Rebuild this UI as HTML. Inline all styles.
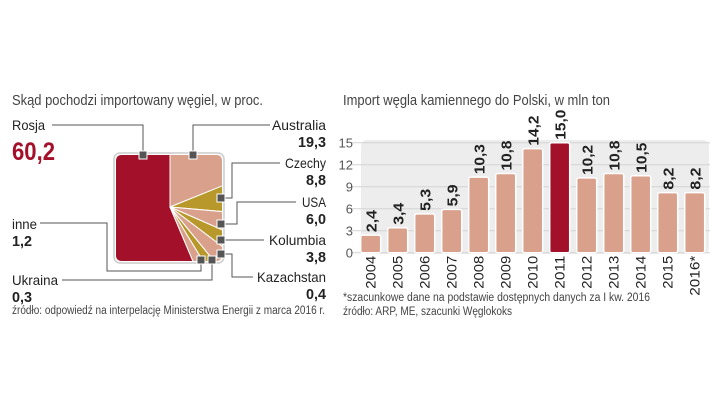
<!DOCTYPE html>
<html><head><meta charset="utf-8"><style>
body{margin:0;background:#fff;}
svg{display:block;font-family:"Liberation Sans",sans-serif;}
</style></head><body>
<svg id="c" width="720" height="405" viewBox="0 0 720 405">
<text x="12" y="105" font-size="14.5" fill="#444" textLength="251" lengthAdjust="spacingAndGlyphs">Skąd pochodzi importowany węgiel, w proc.</text>
<text x="343" y="105" font-size="14.5" fill="#444" textLength="267" lengthAdjust="spacingAndGlyphs">Import węgla kamiennego do Polski, w mln ton</text>
<g id="pie">
<defs><clipPath id="sq"><rect x="116" y="155" width="106" height="106" rx="5"/></clipPath></defs>
<rect x="114" y="153" width="110" height="110" rx="6" fill="#fff" stroke="#ccc" stroke-width="1.5"/>
<g clip-path="url(#sq)" stroke="#fff" stroke-width="1">
<polygon points="170,207 170,150 110,150 110,266 195,266" fill="#a3102a"/>
<polygon points="170,207 170,150 227,150 227,184" fill="#d9a08c"/>
<polygon points="170,207 227,184 227,212" fill="#b8982a"/>
<polygon points="170,207 227,212 227,232" fill="#d9a08c"/>
<polygon points="170,207 227,232 227,250" fill="#b8982a"/>
<polygon points="170,207 227,250 227,266 218,266" fill="#d9a08c"/>
<polygon points="170,207 218,266 206,266" fill="#b8982a"/>
<polygon points="170,207 206,266 195,266" fill="#d9a08c"/>
</g>
<g fill="none" stroke="#555" stroke-width="1">
<polyline points="52,125 143,125 143,155"/>
<polyline points="193,155 193,125 270,125"/>
<polyline points="221,198 232,198 232,163 280,163"/>
<polyline points="221,224 237,224 237,202 296,202"/>
<polyline points="221,240 264,240"/>
<polyline points="221,254 232,254 232,277 253,277"/>
<polyline points="40,223 107,223 107,271 201,271 201,260"/>
<polyline points="62,280 212,280 212,260"/>
</g>
<g fill="#555" stroke="#fff" stroke-width="1">
<rect x="139" y="151" width="8" height="8"/><rect x="189" y="151" width="8" height="8"/>
<rect x="217" y="194" width="8" height="8"/><rect x="217" y="220" width="8" height="8"/>
<rect x="217" y="236" width="8" height="8"/><rect x="217" y="250" width="8" height="8"/>
<rect x="197" y="256" width="8" height="8"/><rect x="208" y="256" width="8" height="8"/>
</g>
<g font-size="14" fill="#222">
<text x="12" y="130" textLength="33" lengthAdjust="spacingAndGlyphs">Rosja</text>
<text x="12" y="160" font-size="25" font-weight="bold" fill="#a3102a" textLength="43" lengthAdjust="spacingAndGlyphs">60,2</text>
<text x="12" y="229" textLength="25" lengthAdjust="spacingAndGlyphs">inne</text><text x="12" y="246" font-weight="bold" font-size="15" textLength="20" lengthAdjust="spacingAndGlyphs">1,2</text>
<text x="12" y="285" textLength="46" lengthAdjust="spacingAndGlyphs">Ukraina</text><text x="12" y="302" font-weight="bold" font-size="15" textLength="20" lengthAdjust="spacingAndGlyphs">0,3</text>
<g text-anchor="end">
<text x="326" y="130" textLength="54" lengthAdjust="spacingAndGlyphs">Australia</text><text x="326" y="147" font-weight="bold" font-size="15" textLength="28" lengthAdjust="spacingAndGlyphs">19,3</text>
<text x="326" y="168" textLength="41" lengthAdjust="spacingAndGlyphs">Czechy</text><text x="326" y="185" font-weight="bold" font-size="15" textLength="20" lengthAdjust="spacingAndGlyphs">8,8</text>
<text x="326" y="207" textLength="24" lengthAdjust="spacingAndGlyphs">USA</text><text x="326" y="224" font-weight="bold" font-size="15" textLength="20" lengthAdjust="spacingAndGlyphs">6,0</text>
<text x="326" y="245" textLength="57" lengthAdjust="spacingAndGlyphs">Kolumbia</text><text x="326" y="262" font-weight="bold" font-size="15" textLength="20" lengthAdjust="spacingAndGlyphs">3,8</text>
<text x="326" y="282" textLength="69" lengthAdjust="spacingAndGlyphs">Kazachstan</text><text x="326" y="299" font-weight="bold" font-size="15" textLength="20" lengthAdjust="spacingAndGlyphs">0,4</text>
</g></g>
<text x="12" y="314" font-size="11.5" fill="#444" textLength="313" lengthAdjust="spacingAndGlyphs">źródło: odpowiedź na interpelację Ministerstwa Energii z marca 2016 r.</text>
</g>
<g id="bars">
<rect x="361" y="140" width="348" height="114" rx="6" fill="#ededed"/>
</g>
<text x="343" y="301" font-size="11.5" fill="#444" textLength="307" lengthAdjust="spacingAndGlyphs">*szacunkowe dane na podstawie dostępnych danych za I kw. 2016</text>
<text x="343" y="315" font-size="11.5" fill="#444" textLength="169" lengthAdjust="spacingAndGlyphs">źródło: ARP, ME, szacunki Węglokoks</text>
</svg>
<script>
const years=["2004","2005","2006","2007","2008","2009","2010","2011","2012","2013","2014","2015","2016*"];
const values=[2.4,3.4,5.3,5.9,10.3,10.8,14.2,15.0,10.2,10.8,10.5,8.2,8.2];
const labels=["2,4","3,4","5,3","5,9","10,3","10,8","14,2","15,0","10,2","10,8","10,5","8,2","8,2"];
const ticks=[0,3,6,9,12,15];
const NS="http://www.w3.org/2000/svg";
const g=document.getElementById('bars');
const y0=252.7,pu=110/15;
const ys=v=>y0-v*pu;
const xs=i=>370.7+i*27;
function mk(t,a){const e=document.createElementNS(NS,t);for(const k in a)e.setAttribute(k,a[k]);g.appendChild(e);return e;}
ticks.forEach(t=>{
 const l=mk('line',{x1:352,x2:710,y1:ys(t),y2:ys(t),stroke:'#d4d4d4','stroke-width':1});
 
 
 const tx=mk('text',{x:353,y:ys(t)+5,'text-anchor':'end','font-size':13,fill:'#555'});
 tx.textContent=t;
 
 
});
values.forEach((v,i)=>{
 const r=mk('rect',{x:xs(i)-10,y:ys(v),width:20,height:y0-ys(v),rx:2,fill:i===7?'#a3102a':'#d9a08c',stroke:'#fff','stroke-width':1.5});
 
 
 const vl=mk('text',{x:0,y:0,'font-size':15,'font-weight':'bold',fill:'#222',textLength:labels[i].length>3?30:22,lengthAdjust:'spacingAndGlyphs',transform:`translate(${xs(i)+6},${ys(v)-3}) rotate(-90)`});
 vl.textContent=labels[i];
 
 
 const yl=mk('text',{x:0,y:0,'font-size':14,fill:'#222','text-anchor':'end',textLength:years[i].length>4?40:33,lengthAdjust:'spacingAndGlyphs',transform:`translate(${xs(i)+5},${y0+3}) rotate(-90)`});
 yl.textContent=years[i];
 
 
});
</script>
</body></html>
